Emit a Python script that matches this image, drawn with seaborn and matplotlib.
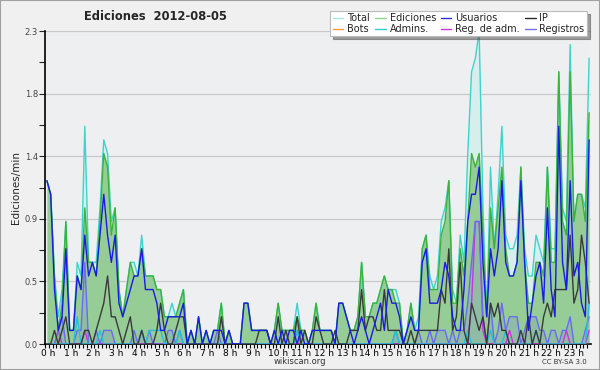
import numpy as np
import pandas as pd
import matplotlib
matplotlib.use("Agg")
import matplotlib.pyplot as plt
import matplotlib.transforms as mtrans
import seaborn as sns
from matplotlib.lines import Line2D

# ---- data: edits per minute, 10-minute bins over 2012-08-05 ----
total = [
    1.2, 1.1, 0.5, 0.2, 0.4, 0.9,
    0.1, 0.1, 0.6, 0.5, 1.6, 0.6,
    0.6, 0.6, 1.0, 1.5, 1.4, 0.9,
    1.0, 0.4, 0.2, 0.4, 0.6, 0.6,
    0.5, 0.8, 0.5, 0.5, 0.5, 0.4,
    0.4, 0.2, 0.2, 0.3, 0.2, 0.3,
    0.4, 0.0, 0.1, 0.0, 0.2, 0.0,
    0.1, 0.0, 0.1, 0.1, 0.3, 0.0,
    0.1, 0.0, 0.0, 0.0, 0.3, 0.3,
    0.1, 0.1, 0.1, 0.1, 0.1, 0.0,
    0.1, 0.3, 0.1, 0.1, 0.1, 0.1,
    0.3, 0.1, 0.1, 0.0, 0.1, 0.3,
    0.1, 0.1, 0.1, 0.1, 0.0, 0.3,
    0.3, 0.2, 0.1, 0.1, 0.2, 0.6,
    0.2, 0.2, 0.3, 0.3, 0.4, 0.5,
    0.4, 0.4, 0.4, 0.3, 0.0, 0.1,
    0.3, 0.1, 0.2, 0.7, 0.8, 0.5,
    0.4, 0.5, 0.9, 1.0, 1.2, 0.4,
    0.3, 0.8, 0.6, 1.4, 2.0, 2.1,
    2.3, 1.0, 0.2, 1.3, 0.7, 1.1,
    1.6, 0.8, 0.7, 0.7, 0.8, 1.3,
    0.7, 0.5, 0.5, 0.8, 0.7, 0.6,
    1.3, 0.7, 0.7, 2.0, 1.0, 0.9,
    2.2, 0.9, 1.1, 1.1, 1.0, 2.1,
]
ediciones = [
    1.2, 1.1, 0.5, 0.1, 0.3, 0.9,
    0.1, 0.1, 0.5, 0.4, 1.0, 0.6,
    0.6, 0.5, 0.9, 1.4, 1.3, 0.8,
    1.0, 0.4, 0.2, 0.4, 0.6, 0.5,
    0.5, 0.7, 0.5, 0.5, 0.5, 0.4,
    0.4, 0.2, 0.2, 0.2, 0.2, 0.3,
    0.4, 0.0, 0.1, 0.0, 0.2, 0.0,
    0.1, 0.0, 0.1, 0.1, 0.3, 0.0,
    0.1, 0.0, 0.0, 0.0, 0.3, 0.3,
    0.1, 0.1, 0.1, 0.1, 0.1, 0.0,
    0.1, 0.3, 0.1, 0.1, 0.1, 0.1,
    0.2, 0.1, 0.1, 0.0, 0.1, 0.3,
    0.1, 0.1, 0.1, 0.1, 0.0, 0.3,
    0.3, 0.2, 0.1, 0.1, 0.2, 0.6,
    0.2, 0.2, 0.3, 0.3, 0.4, 0.5,
    0.4, 0.4, 0.3, 0.3, 0.0, 0.1,
    0.3, 0.1, 0.1, 0.7, 0.8, 0.4,
    0.4, 0.4, 0.8, 0.9, 1.2, 0.3,
    0.3, 0.7, 0.5, 0.9, 1.4, 1.3,
    1.4, 0.8, 0.2, 1.0, 0.7, 1.0,
    1.3, 0.7, 0.5, 0.5, 0.6, 1.3,
    0.6, 0.3, 0.3, 0.6, 0.6, 0.5,
    1.3, 0.6, 0.6, 2.0, 0.9, 0.8,
    2.0, 0.9, 1.1, 1.1, 0.9, 1.7,
]
usuarios = [
    1.2, 1.1, 0.4, 0.1, 0.2, 0.7,
    0.1, 0.1, 0.5, 0.4, 0.8, 0.5,
    0.6, 0.5, 0.8, 1.1, 0.8, 0.6,
    0.8, 0.3, 0.2, 0.3, 0.4, 0.5,
    0.5, 0.7, 0.4, 0.4, 0.4, 0.3,
    0.1, 0.1, 0.2, 0.2, 0.2, 0.2,
    0.3, 0.0, 0.1, 0.0, 0.2, 0.0,
    0.1, 0.0, 0.1, 0.1, 0.1, 0.0,
    0.1, 0.0, 0.0, 0.0, 0.3, 0.3,
    0.1, 0.1, 0.1, 0.1, 0.1, 0.0,
    0.1, 0.0, 0.1, 0.0, 0.1, 0.1,
    0.0, 0.1, 0.0, 0.0, 0.1, 0.1,
    0.1, 0.1, 0.1, 0.1, 0.0, 0.3,
    0.3, 0.2, 0.1, 0.0, 0.1, 0.2,
    0.1, 0.0, 0.1, 0.2, 0.3, 0.1,
    0.4, 0.3, 0.3, 0.2, 0.0, 0.1,
    0.2, 0.1, 0.1, 0.6, 0.7, 0.3,
    0.3, 0.3, 0.4, 0.6, 0.5, 0.2,
    0.1, 0.1, 0.4, 0.9, 1.1, 1.1,
    1.3, 0.6, 0.2, 0.7, 0.5, 0.7,
    1.2, 0.6, 0.5, 0.5, 0.6, 1.2,
    0.6, 0.1, 0.3, 0.5, 0.6, 0.3,
    1.0, 0.4, 0.2, 1.6, 0.6, 0.4,
    1.2, 0.5, 0.6, 0.3, 0.2, 1.5,
]
ip = [
    0.0, 0.0, 0.1, 0.0, 0.1, 0.2,
    0.0, 0.0, 0.0, 0.0, 0.1, 0.1,
    0.0, 0.1, 0.2, 0.3, 0.5, 0.2,
    0.2, 0.1, 0.0, 0.1, 0.2, 0.0,
    0.0, 0.1, 0.0, 0.0, 0.0, 0.1,
    0.3, 0.1, 0.0, 0.0, 0.1, 0.2,
    0.2, 0.0, 0.0, 0.0, 0.0, 0.0,
    0.0, 0.0, 0.0, 0.0, 0.2, 0.0,
    0.0, 0.0, 0.0, 0.0, 0.0, 0.0,
    0.0, 0.0, 0.1, 0.1, 0.1, 0.0,
    0.0, 0.2, 0.0, 0.1, 0.0, 0.0,
    0.2, 0.0, 0.1, 0.0, 0.0, 0.2,
    0.1, 0.0, 0.0, 0.0, 0.1, 0.0,
    0.0, 0.0, 0.1, 0.1, 0.1, 0.4,
    0.1, 0.2, 0.2, 0.1, 0.1, 0.4,
    0.1, 0.1, 0.1, 0.1, 0.0, 0.0,
    0.1, 0.0, 0.1, 0.1, 0.1, 0.1,
    0.1, 0.1, 0.4, 0.3, 0.7, 0.1,
    0.2, 0.6, 0.1, 0.0, 0.3, 0.2,
    0.1, 0.2, 0.0, 0.3, 0.2, 0.3,
    0.1, 0.1, 0.0, 0.0, 0.0, 0.1,
    0.0, 0.2, 0.0, 0.1, 0.0, 0.2,
    0.3, 0.2, 0.4, 0.4, 0.4, 0.4,
    0.8, 0.3, 0.4, 0.8, 0.6, 0.3,
]
bots = [
    0.0, 0.0, 0.0, 0.0, 0.0, 0.0,
    0.0, 0.0, 0.0, 0.0, 0.0, 0.0,
    0.0, 0.0, 0.0, 0.0, 0.0, 0.0,
    0.0, 0.0, 0.0, 0.0, 0.0, 0.0,
    0.0, 0.0, 0.0, 0.0, 0.0, 0.0,
    0.0, 0.0, 0.0, 0.0, 0.0, 0.0,
    0.0, 0.0, 0.0, 0.0, 0.0, 0.0,
    0.0, 0.0, 0.0, 0.0, 0.0, 0.0,
    0.0, 0.0, 0.0, 0.0, 0.0, 0.0,
    0.0, 0.0, 0.0, 0.0, 0.0, 0.0,
    0.0, 0.0, 0.0, 0.0, 0.0, 0.0,
    0.0, 0.0, 0.0, 0.0, 0.0, 0.0,
    0.0, 0.0, 0.0, 0.0, 0.0, 0.0,
    0.0, 0.0, 0.0, 0.0, 0.0, 0.0,
    0.0, 0.0, 0.0, 0.0, 0.0, 0.0,
    0.0, 0.0, 0.0, 0.0, 0.0, 0.0,
    0.0, 0.0, 0.0, 0.0, 0.0, 0.0,
    0.0, 0.0, 0.0, 0.0, 0.0, 0.0,
    0.0, 0.0, 0.0, 0.0, 0.0, 0.0,
    0.0, 0.0, 0.0, 0.0, 0.0, 0.0,
    0.0, 0.0, 0.0, 0.0, 0.0, 0.0,
    0.0, 0.0, 0.0, 0.0, 0.0, 0.0,
    0.0, 0.0, 0.0, 0.0, 0.0, 0.0,
    0.0, 0.0, 0.0, 0.0, 0.0, 0.0,
]
admins = [
    0.0, 0.0, 0.0, 0.0, 0.0, 0.0,
    0.0, 0.0, 0.2, 0.0, 0.0, 0.0,
    0.0, 0.0, 0.1, 0.0, 0.0, 0.0,
    0.0, 0.0, 0.0, 0.0, 0.0, 0.0,
    0.0, 0.1, 0.0, 0.1, 0.1, 0.1,
    0.1, 0.0, 0.0, 0.0, 0.0, 0.1,
    0.0, 0.0, 0.0, 0.0, 0.0, 0.0,
    0.0, 0.0, 0.0, 0.0, 0.0, 0.0,
    0.0, 0.0, 0.0, 0.0, 0.0, 0.0,
    0.0, 0.0, 0.0, 0.0, 0.0, 0.0,
    0.0, 0.0, 0.0, 0.0, 0.0, 0.0,
    0.1, 0.0, 0.0, 0.0, 0.0, 0.0,
    0.0, 0.0, 0.0, 0.0, 0.0, 0.0,
    0.0, 0.0, 0.0, 0.0, 0.0, 0.0,
    0.0, 0.0, 0.0, 0.0, 0.0, 0.0,
    0.0, 0.0, 0.1, 0.0, 0.0, 0.0,
    0.0, 0.0, 0.0, 0.0, 0.0, 0.0,
    0.0, 0.0, 0.0, 0.0, 0.0, 0.0,
    0.0, 0.0, 0.0, 0.1, 0.0, 0.0,
    0.0, 0.0, 0.0, 0.1, 0.0, 0.0,
    0.0, 0.1, 0.0, 0.0, 0.0, 0.0,
    0.0, 0.0, 0.0, 0.1, 0.0, 0.0,
    0.0, 0.0, 0.0, 0.0, 0.0, 0.0,
    0.0, 0.0, 0.0, 0.0, 0.0, 0.3,
]
reg_adm = [
    0.0, 0.0, 0.0, 0.1, 0.0, 0.0,
    0.0, 0.0, 0.0, 0.0, 0.1, 0.0,
    0.0, 0.0, 0.0, 0.0, 0.0, 0.0,
    0.0, 0.0, 0.0, 0.0, 0.0, 0.0,
    0.0, 0.0, 0.0, 0.0, 0.0, 0.0,
    0.0, 0.0, 0.0, 0.0, 0.0, 0.0,
    0.0, 0.0, 0.0, 0.0, 0.0, 0.0,
    0.0, 0.0, 0.0, 0.0, 0.0, 0.0,
    0.0, 0.0, 0.0, 0.0, 0.0, 0.0,
    0.0, 0.0, 0.0, 0.0, 0.0, 0.0,
    0.0, 0.0, 0.0, 0.0, 0.0, 0.0,
    0.0, 0.0, 0.0, 0.0, 0.0, 0.0,
    0.0, 0.0, 0.0, 0.0, 0.0, 0.0,
    0.0, 0.0, 0.0, 0.0, 0.0, 0.0,
    0.0, 0.0, 0.0, 0.0, 0.0, 0.0,
    0.0, 0.0, 0.0, 0.0, 0.0, 0.0,
    0.0, 0.0, 0.0, 0.0, 0.0, 0.0,
    0.0, 0.0, 0.0, 0.0, 0.0, 0.0,
    0.0, 0.0, 0.0, 0.0, 0.3, 0.9,
    0.9, 0.1, 0.0, 0.0, 0.0, 0.0,
    0.0, 0.0, 0.1, 0.0, 0.0, 0.0,
    0.0, 0.0, 0.0, 0.0, 0.0, 0.0,
    0.0, 0.0, 0.0, 0.0, 0.0, 0.1,
    0.0, 0.0, 0.0, 0.0, 0.0, 0.1,
]
registros = [
    0.0, 0.0, 0.0, 0.1, 0.2, 0.0,
    0.0, 0.0, 0.1, 0.1, 0.6, 0.0,
    0.0, 0.1, 0.0, 0.1, 0.1, 0.1,
    0.0, 0.0, 0.0, 0.0, 0.0, 0.1,
    0.0, 0.1, 0.0, 0.1, 0.0, 0.0,
    0.0, 0.0, 0.1, 0.1, 0.0, 0.1,
    0.0, 0.0, 0.0, 0.0, 0.0, 0.0,
    0.0, 0.0, 0.0, 0.1, 0.0, 0.0,
    0.0, 0.0, 0.0, 0.0, 0.0, 0.0,
    0.0, 0.0, 0.0, 0.0, 0.0, 0.0,
    0.0, 0.0, 0.0, 0.0, 0.0, 0.0,
    0.1, 0.0, 0.0, 0.0, 0.0, 0.0,
    0.0, 0.0, 0.0, 0.0, 0.0, 0.0,
    0.0, 0.0, 0.0, 0.0, 0.0, 0.0,
    0.0, 0.0, 0.0, 0.0, 0.0, 0.0,
    0.0, 0.0, 0.1, 0.0, 0.0, 0.0,
    0.0, 0.0, 0.1, 0.0, 0.0, 0.1,
    0.0, 0.1, 0.1, 0.1, 0.0, 0.1,
    0.0, 0.1, 0.1, 0.3, 0.6, 0.9,
    0.9, 0.2, 0.0, 0.3, 0.0, 0.1,
    0.3, 0.1, 0.2, 0.2, 0.2, 0.0,
    0.1, 0.2, 0.2, 0.2, 0.1, 0.1,
    0.0, 0.1, 0.1, 0.0, 0.1, 0.1,
    0.2, 0.0, 0.0, 0.0, 0.1, 0.2,
]

hour_labels = [f"{h} h" for h in range(24)]
y_ticks = [0.0, 0.46, 0.92, 1.38, 1.84, 2.3]
y_ticklabels = ["0.0", "0.5", "0.9", "1.4", "1.8", "2.3"]

series = {"Total": total, "Ediciones": ediciones, "Usuarios": usuarios, "IP": ip,
          "Bots": bots, "Admins.": admins, "Reg. de adm.": reg_adm, "Registros": registros}
for k, v in series.items():
    assert len(v) == 144, (k, len(v))

# time of each 10-minute bin (centre), in hours
hours = (np.arange(144) * 10 + 5) / 60.0
df = pd.DataFrame({"hora": hours, **series})

sns.set_theme(style="white")
plt.rcParams["font.family"] = ["DejaVu Sans"]

BG = "#eeeff1"
fig = plt.figure(figsize=(6, 3.7), dpi=100, facecolor="#f0f0f0")
ax = fig.add_axes([45 / 600, 1 - 344 / 370, 546 / 600, 313 / 370])
ax.set_facecolor(BG)

line_colors = {
    "Total": "#3fd3cc",
    "Ediciones": "#3bb33b",
    "Usuarios": "#1a1ae6",
    "IP": "#3a3a3a",
    "Bots": "#ff9933",
    "Admins.": "#22c4d4",
    "Reg. de adm.": "#cc33dd",
    "Registros": "#6a6af2",
}
legend_colors = {
    "Total": "#a8e6e6",
    "Ediciones": "#8fd88f",
    "Usuarios": "#3030e0",
    "IP": "#2a2a2a",
    "Bots": "#ff9933",
    "Admins.": "#33cccc",
    "Reg. de adm.": "#cc33dd",
    "Registros": "#7070f0",
}

# gridlines
for yv in y_ticks[1:]:
    ax.axhline(yv, color="#c8c8c8", lw=0.9, zorder=0)

# area fills
ax.fill_between(df["hora"], df["Total"], color="#d6efec", zorder=1, lw=0)
ax.fill_between(df["hora"], df["Ediciones"], color="#96cc96", zorder=2, lw=0)
ax.fill_between(df["hora"], df["Registros"], color="#8090d8", alpha=0.25, zorder=3, lw=0)

order = ["Total", "Ediciones", "Bots", "Reg. de adm.", "Registros", "Admins.", "IP", "Usuarios"]
for i, name in enumerate(order):
    sns.lineplot(data=df, x="hora", y=name, ax=ax, color=line_colors[name],
                 lw=1.0, zorder=4 + i, legend=False)

ax.set_xlim(0, 24)
ax.set_ylim(0, 2.3)
ax.set_xlabel("")
ax.set_ylabel("Ediciones/min", fontsize=7.5, labelpad=3)

ax.set_xticks(np.arange(24))
ax.set_xticklabels(hour_labels, fontsize=6.5, ha="left")
ax.set_xticks(np.arange(0, 24, 1 / 6), minor=True)
ax.tick_params(axis="x", which="both", length=3, width=0.8, pad=0.5, colors="black",
               bottom=True)
offset = mtrans.ScaledTranslation(-3 / 72, 0, fig.dpi_scale_trans)
for lab in ax.get_xticklabels():
    lab.set_transform(lab.get_transform() + offset)

ax.set_yticks(y_ticks)
ax.set_yticklabels(y_ticklabels, fontsize=6, color="#444444")
ax.set_yticks(np.arange(0, 2.31, 0.23), minor=True)
ax.tick_params(axis="y", which="both", length=4, width=0.8, pad=1, left=True)

for s in ["top", "right"]:
    ax.spines[s].set_visible(False)
for s in ["left", "bottom"]:
    ax.spines[s].set_color("black")
    ax.spines[s].set_linewidth(1.2)

# title and footer
fig.text(155 / 600, 1 - 17 / 370, "Ediciones  2012-08-05", fontsize=8.3, fontweight="bold",
         ha="center", va="center")
fig.text(300 / 600, 1 - 362 / 370, "wikiscan.org", fontsize=6, ha="center", va="center",
         color="#333333")
fig.text(587 / 600, 1 - 362 / 370, "CC BY-SA 3.0", fontsize=5, ha="right", va="center",
         color="#333333")

# legend (rows read across: Total, Ediciones, Usuarios, IP / Bots, Admins., ...)
leg_order = ["Total", "Ediciones", "Usuarios", "IP", "Bots", "Admins.", "Reg. de adm.", "Registros"]
arranged = []
for c in range(4):
    arranged += [leg_order[c], leg_order[c + 4]]
handles = [Line2D([0], [0], color=legend_colors[n], lw=1.0) for n in arranged]
leg = fig.legend(handles, arranged, ncol=4, loc="upper right",
                 bbox_to_anchor=(587 / 600, 1 - 11 / 370), fontsize=7,
                 frameon=True, fancybox=False, shadow=True, handlelength=1.1,
                 handletextpad=0.4, columnspacing=0.5, labelspacing=0.05,
                 borderpad=0.25, borderaxespad=0)
leg.get_frame().set_edgecolor("#bbbbbb")
leg.get_frame().set_facecolor("white")
leg.get_frame().set_linewidth(0.8)
leg.set_zorder(20)

# outer border
fig.patches.append(plt.Rectangle((0, 0), 1, 1, transform=fig.transFigure, fill=False,
                                 edgecolor="#a0a0a0", lw=1.5))

fig.savefig("out.png", dpi=100, facecolor=fig.get_facecolor())
